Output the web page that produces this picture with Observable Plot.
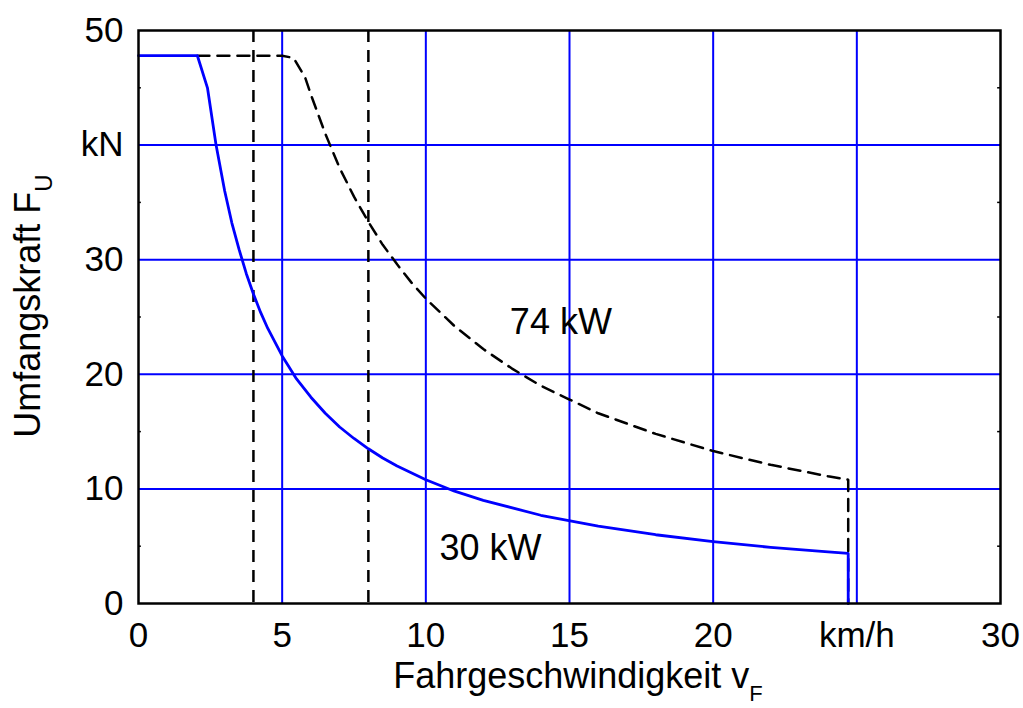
<!DOCTYPE html>
<html>
<head>
<meta charset="utf-8">
<script src="https://cdn.jsdelivr.net/npm/d3@7"></script>
<script src="https://cdn.jsdelivr.net/npm/@observablehq/plot@0.6"></script>
<style>
  html, body { margin: 0; padding: 0; background: #fff; }
  #chart svg { display: block; }
</style>
</head>
<body>
<div id="chart"></div>
<script>
// --- data ---
const v30 = [0, 2.05, 2.4, 2.7, 3.0, 3.25, 3.5, 3.75, 4.0, 4.25, 4.5, 5.0, 5.5, 6.0, 6.5, 7.0, 7.5, 8.0, 8.5, 9.0, 10.0, 11.0, 12.0, 14.0, 16.0, 18.0, 20.0, 22.0, 24.0, 24.7, 24.7];
const f30 = [47.8, 47.8, 45.0, 40.0, 36.0, 33.2, 30.9, 28.8, 27.0, 25.4, 24.0, 21.6, 19.6, 18.0, 16.6, 15.4, 14.4, 13.5, 12.7, 12.0, 10.8, 9.8, 9.0, 7.7, 6.75, 6.0, 5.4, 4.9, 4.5, 4.37, 0];

const v74 = [2.05, 5.0, 5.4, 5.8, 6.0, 6.5, 7.0, 7.5, 8.0, 8.5, 9.0, 9.5, 10.0, 11.0, 12.0, 13.0, 14.0, 15.0, 16.0, 18.0, 20.0, 22.0, 24.0, 24.7, 24.7];
const f74 = [47.8, 47.8, 47.6, 45.9, 44.4, 41.0, 38.0, 35.5, 33.3, 31.3, 29.6, 28.0, 26.6, 24.2, 22.2, 20.5, 19.0, 17.8, 16.6, 14.8, 13.3, 12.1, 11.1, 10.8, 0];

const gridX = [5, 10, 15, 20, 25];
const gridY = [10, 20, 30, 40];
const dashedX = [4, 8];
const minorY = [5, 15, 25, 35, 45];

const xTicks = [0, 5, 10, 15, 20, 25, 30];
const xTickLabels = ["0", "5", "10", "15", "20", "km/h", "30"];
const yTicks = [0, 10, 20, 30, 40, 50];
const yTickLabels = ["0", "10", "20", "30", "kN", "50"];

const curveLabels = ["74 kW", "30 kW"];
const curveLabelX = [14.7, 12.25];
const curveLabelY = [24.5, 4.8];

const xTitle = "Fahrgeschwindigkeit v";
const xTitleSub = "F";
const yTitle = "Umfangskraft F";
const yTitleSub = "U";

// --- build tables ---
const line30 = v30.map((v, i) => ({v, f: f30[i]}));
const line74 = v74.map((v, i) => ({v, f: f74[i]}));
const labels = curveLabels.map((t, i) => ({t, x: curveLabelX[i], y: curveLabelY[i]}));

const FONT = "'Liberation Sans', Arial, Helvetica, sans-serif";
const FS = 35;

const chart = Plot.plot({
  width: 1023,
  height: 708,
  marginLeft: 138,
  marginRight: 23,
  marginTop: 30,
  marginBottom: 105,
  x: {domain: [0, 30]},
  y: {domain: [0, 50]},
  style: {fontFamily: FONT, fontSize: FS + "px", color: "black", background: "white", overflow: "visible"},
  marks: [
    Plot.ruleX(gridX, {stroke: "#0000ff", strokeWidth: 2}),
    Plot.ruleY(gridY, {stroke: "#0000ff", strokeWidth: 2}),
    Plot.ruleX(dashedX, {stroke: "black", strokeWidth: 2.5, strokeDasharray: "12,8"}),
    Plot.line(line74, {x: "v", y: "f", stroke: "black", strokeWidth: 2.5, strokeDasharray: "12,8", curve: "linear"}),
    Plot.line(line30, {x: "v", y: "f", stroke: "#0000ff", strokeWidth: 2.8, curve: "linear"}),
    Plot.ruleY(minorY, {x1: 0, x2: 0.1, stroke: "black", strokeWidth: 1.5}),
    Plot.ruleY(minorY, {x1: 29.9, x2: 30, stroke: "black", strokeWidth: 1.5}),
    Plot.frame({stroke: "black", strokeWidth: 2.5}),
    Plot.axisX({ticks: xTicks, tickFormat: (d) => xTickLabels[xTicks.indexOf(d)], tickSize: 0, tickPadding: 19, label: null, fontSize: FS}),
    Plot.axisY({ticks: yTicks, tickFormat: (d) => yTickLabels[yTicks.indexOf(d)], tickSize: 0, tickPadding: 15, label: null, fontSize: FS}),
    Plot.text(labels, {x: "x", y: "y", text: "t", fontSize: 36, fill: "black", fontFamily: FONT})
  ]
});

// axis titles with subscripts
const svg = d3.select(chart);
const xt = svg.append("text")
  .attr("x", 578).attr("y", 688)
  .attr("text-anchor", "middle")
  .attr("font-family", FONT).attr("font-size", 36).attr("fill", "black");
xt.append("tspan").text(xTitle);
xt.append("tspan").attr("font-size", 22).attr("dy", 13).text(xTitleSub);

const yt = svg.append("text")
  .attr("transform", "translate(40,306) rotate(-90)")
  .attr("text-anchor", "middle")
  .attr("font-family", FONT).attr("font-size", 36).attr("fill", "black");
yt.append("tspan").text(yTitle);
yt.append("tspan").attr("font-size", 24).attr("dy", 12).text(yTitleSub);

document.getElementById("chart").appendChild(chart);
</script>
</body>
</html>
